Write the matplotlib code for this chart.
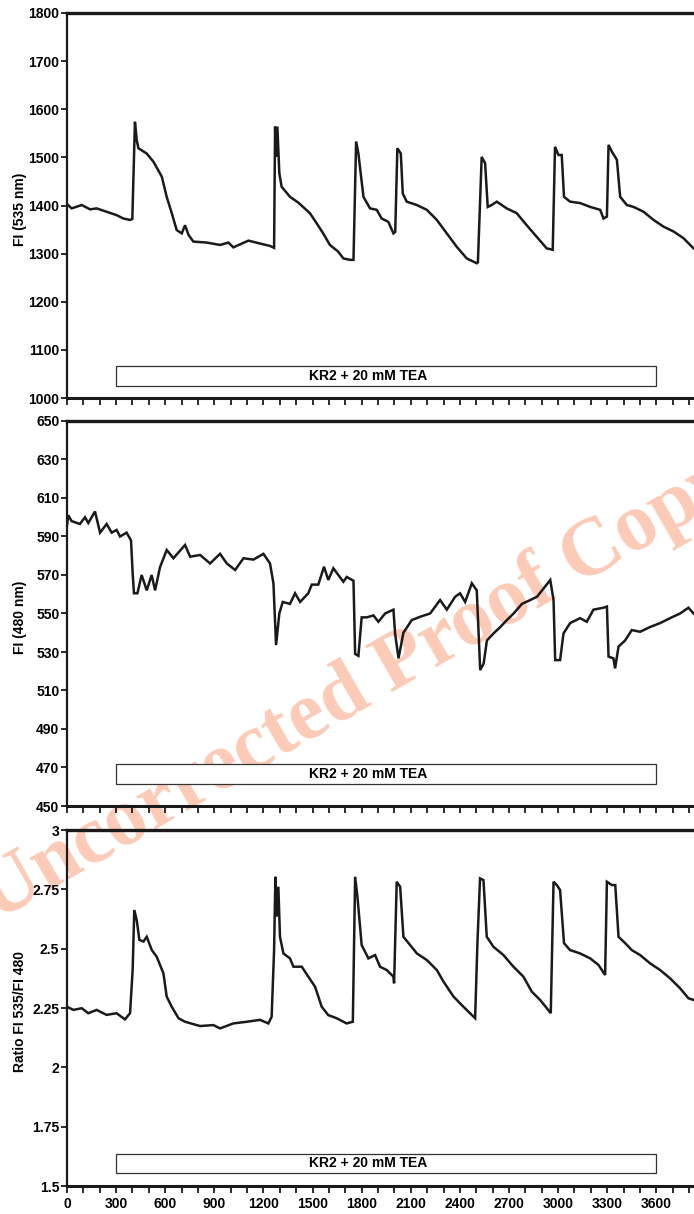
import matplotlib
matplotlib.use("Agg")
import matplotlib.pyplot as plt
from matplotlib.patches import Rectangle
from matplotlib.ticker import MultipleLocator, FuncFormatter

# ---------------- data ----------------
t_535 = [0, 28, 90, 141, 181, 242, 303, 344, 385, 399, 415, 426, 436, 487, 528, 579,
         609, 640, 670, 701, 721, 742, 772, 853, 935, 986, 1016, 1108, 1179, 1240, 1265,
         1271, 1277, 1285, 1297, 1311, 1362, 1413, 1484, 1525, 1565, 1606, 1657, 1688,
         1729, 1750, 1766, 1780, 1794, 1811, 1851, 1892, 1922, 1963, 1994, 2005, 2018,
         2039, 2051, 2075, 2137, 2198, 2259, 2320, 2381, 2442, 2503, 2510, 2533, 2554,
         2570, 2594, 2625, 2686, 2747, 2808, 2869, 2930, 2967, 2981, 3002, 3022, 3036,
         3073, 3135, 3196, 3257, 3277, 3298, 3308, 3328, 3359, 3379, 3420, 3461, 3522,
         3583, 3644, 3705, 3766, 3827]
fi_535 = [1403, 1394, 1401, 1392, 1394, 1387, 1380, 1373, 1370, 1372, 1574, 1536, 1519,
          1508, 1491, 1460, 1418, 1384, 1349, 1342, 1359, 1339, 1325, 1323, 1318, 1323,
          1313, 1327, 1321, 1316, 1312, 1564, 1501, 1564, 1467, 1439, 1418, 1406, 1384,
          1363, 1342, 1318, 1304, 1290, 1287, 1287, 1533, 1508, 1467, 1418, 1394, 1391,
          1373, 1366, 1342, 1345, 1519, 1508, 1425, 1408, 1401, 1391, 1370, 1342, 1314,
          1290, 1280, 1282, 1501, 1488, 1397, 1401, 1408, 1394, 1384, 1359, 1335, 1311,
          1308, 1522, 1505, 1505, 1418, 1408, 1405, 1397, 1391, 1373, 1377, 1526, 1512,
          1495, 1418, 1401, 1397, 1387, 1370, 1356, 1346, 1332, 1311]

t_480 = [0, 8, 28, 79, 110, 130, 171, 202, 242, 273, 303, 324, 364, 391, 401, 409, 430,
         456, 487, 517, 538, 568, 609, 650, 721, 752, 813, 874, 935, 976, 1027, 1078,
         1139, 1200, 1240, 1261, 1277, 1297, 1318, 1362, 1393, 1424, 1474, 1495, 1535,
         1570, 1596, 1627, 1688, 1709, 1750, 1760, 1780, 1800, 1831, 1872, 1902, 1943,
         1994, 2004, 2025, 2055, 2106, 2157, 2218, 2279, 2320, 2371, 2401, 2432, 2473,
         2503, 2524, 2545, 2565, 2606, 2647, 2687, 2728, 2779, 2830, 2871, 2911, 2952,
         2972, 2982, 3012, 3033, 3073, 3134, 3175, 3216, 3277, 3298, 3308, 3338, 3348,
         3369, 3409, 3450, 3501, 3562, 3623, 3684, 3745, 3796, 3827]
fi_480 = [596, 601, 598, 596.5, 600, 597, 603, 592, 596.5, 592, 593.4, 590, 592, 588,
          571, 560.5, 560.5, 570, 562, 570, 562, 574, 583, 578.7, 585.6, 579.5, 580.4,
          576, 581, 576, 572.6, 578.7, 578, 581, 576, 565.7, 533.6, 550, 556, 555, 560.5,
          556, 560.5, 565, 565, 574.3, 567.4, 573.5, 566.5, 569, 567, 529, 528, 548, 548,
          549, 545.7, 550, 552, 539.7, 526.7, 540, 546.6, 548.3, 550, 557, 552, 558.7,
          560.5, 556, 565.7, 562, 520.6, 524, 536, 539.7, 543, 546.6, 550, 555, 557,
          558.7, 563, 567.4, 557, 525.8, 525.8, 539.7, 545, 547.6, 545.7, 552, 553,
          553.6, 527.6, 526.7, 521.5, 532.8, 536, 541.4, 540.5, 543, 545, 547.6, 550,
          553, 550]

t_ratio = [0, 39, 90, 130, 181, 242, 303, 354, 385, 401, 411, 426, 442, 467, 487, 518,
           548, 589, 609, 640, 681, 721, 813, 894, 935, 1016, 1098, 1179, 1230, 1250,
           1265, 1273, 1281, 1291, 1301, 1322, 1362, 1383, 1434, 1474, 1515, 1556, 1596,
           1647, 1708, 1746, 1760, 1774, 1800, 1841, 1882, 1912, 1953, 1994, 1998, 2014,
           2035, 2055, 2096, 2137, 2198, 2259, 2300, 2361, 2422, 2462, 2493, 2507, 2523,
           2544, 2564, 2605, 2666, 2727, 2788, 2839, 2890, 2931, 2955, 2972, 2992, 3012,
           3036, 3073, 3134, 3196, 3247, 3287, 3298, 3328, 3349, 3369, 3410, 3450, 3501,
           3562, 3623, 3684, 3745, 3796, 3827]
ratio = [2.255, 2.242, 2.249, 2.228, 2.242, 2.221, 2.228, 2.202, 2.228, 2.41, 2.663, 2.62,
         2.537, 2.53, 2.55, 2.494, 2.466, 2.396, 2.298, 2.255, 2.207, 2.192, 2.174, 2.178,
         2.164, 2.185, 2.192, 2.2, 2.185, 2.213, 2.494, 2.803, 2.635, 2.761, 2.55, 2.48,
         2.459, 2.424, 2.424, 2.382, 2.34, 2.255, 2.22, 2.207, 2.185, 2.192, 2.803, 2.719,
         2.515, 2.459, 2.473, 2.424, 2.41, 2.382, 2.354, 2.782, 2.761, 2.55, 2.515, 2.48,
         2.452, 2.41, 2.361, 2.298, 2.255, 2.228, 2.207, 2.523, 2.796, 2.789, 2.55, 2.508,
         2.473, 2.424, 2.382, 2.319, 2.284, 2.249, 2.228, 2.782, 2.768, 2.747, 2.523,
         2.494, 2.48, 2.459, 2.431, 2.389, 2.782, 2.768, 2.768, 2.55, 2.523, 2.494, 2.473,
         2.438, 2.41, 2.375, 2.333, 2.291, 2.284]

x_major_labels = [0, 300, 600, 900, 1200, 1500, 1800, 2100, 2400, 2700, 3000, 3300, 3600]
yticks_535 = [1000, 1100, 1200, 1300, 1400, 1500, 1600, 1700, 1800]
yticks_480 = [450, 470, 490, 510, 530, 550, 570, 590, 610, 630, 650]
yticks_ratio = [1.5, 1.75, 2, 2.25, 2.5, 2.75, 3]
treatment_label = "KR2 + 20 mM TEA"
treatment_start, treatment_end = 300, 3600
ylabels = ["FI (535 nm)", "FI (480 nm)", "Ratio FI 535/FI 480"]

# ---------------- figure ----------------
plt.rcParams['font.family'] = ['Liberation Sans', 'DejaVu Sans']
plt.rcParams['font.weight'] = 'bold'

fig = plt.figure(figsize=(6.94, 12.14), dpi=100)

W, H = 694.0, 1214.0
left = 67 / W
panels = [
    # (top_px, bottom_px, yticks, box (y0,y1))
    (13, 398, yticks_535, (1025, 1066)),
    (421, 806, yticks_480, (461.4, 471.8)),
    (830, 1186, yticks_ratio, (1.555, 1.635)),
]
series = [(t_535, fi_535), (t_480, fi_480), (t_ratio, ratio)]

fmt = FuncFormatter(lambda v, p: ('%g' % round(v, 4)))

for i, ((top_px, bot_px, yt, box), (tx, ty)) in enumerate(zip(panels, series)):
    ax = fig.add_axes([left, 1 - bot_px / H, 1 - left, (bot_px - top_px) / H])
    ax.set_facecolor('none')
    ax.plot(tx, ty, color='#1a1a1a', lw=1.8, solid_joinstyle='miter')
    ax.set_xlim(0, 3830)
    ax.set_ylim(yt[0], yt[-1])
    ax.set_yticks(yt)
    ax.yaxis.set_major_formatter(fmt)
    ax.xaxis.set_major_locator(MultipleLocator(100))
    if i == 2:
        ax.xaxis.set_major_formatter(FuncFormatter(
            lambda v, p: ('%d' % v) if int(round(v)) in x_major_labels else ''))
    else:
        ax.xaxis.set_major_formatter(FuncFormatter(lambda v, p: ''))
    ax.tick_params(axis='x', direction='out', length=5, width=1.3, pad=3,
                   labelsize=10, color='#1a1a1a')
    ax.tick_params(axis='y', direction='out', length=4, width=1.3, pad=1.5,
                   labelsize=10, color='#1a1a1a')
    for lab in ax.get_xticklabels() + ax.get_yticklabels():
        lab.set_fontweight('bold')
    ax.spines['right'].set_visible(False)
    ax.spines['top'].set_linewidth(2.4)
    ax.spines['bottom'].set_linewidth(2.2)
    ax.spines['left'].set_linewidth(1.6)
    for s in ax.spines.values():
        s.set_color('#1a1a1a')
    ax.set_ylabel(ylabels[i], fontsize=10, fontweight='bold')
    ax.yaxis.set_label_coords(-0.064, 0.49)

    ax.add_patch(Rectangle((treatment_start, box[0]), treatment_end - treatment_start,
                           box[1] - box[0], facecolor='white', edgecolor='#333333',
                           lw=0.9, zorder=3))
    ax.text(1840, (box[0] + box[1]) / 2, treatment_label, ha='center', va='center',
            fontsize=10, fontweight='bold', zorder=4)

fig.text(0.529, 0.418, "Uncorrected Proof Copy", rotation=30, rotation_mode='anchor',
         ha='center', va='baseline', fontsize=59, family='Liberation Serif',
         fontweight='bold', color='#FCCBB8', zorder=-1)

fig.savefig("out.png", dpi=100, facecolor='white')
